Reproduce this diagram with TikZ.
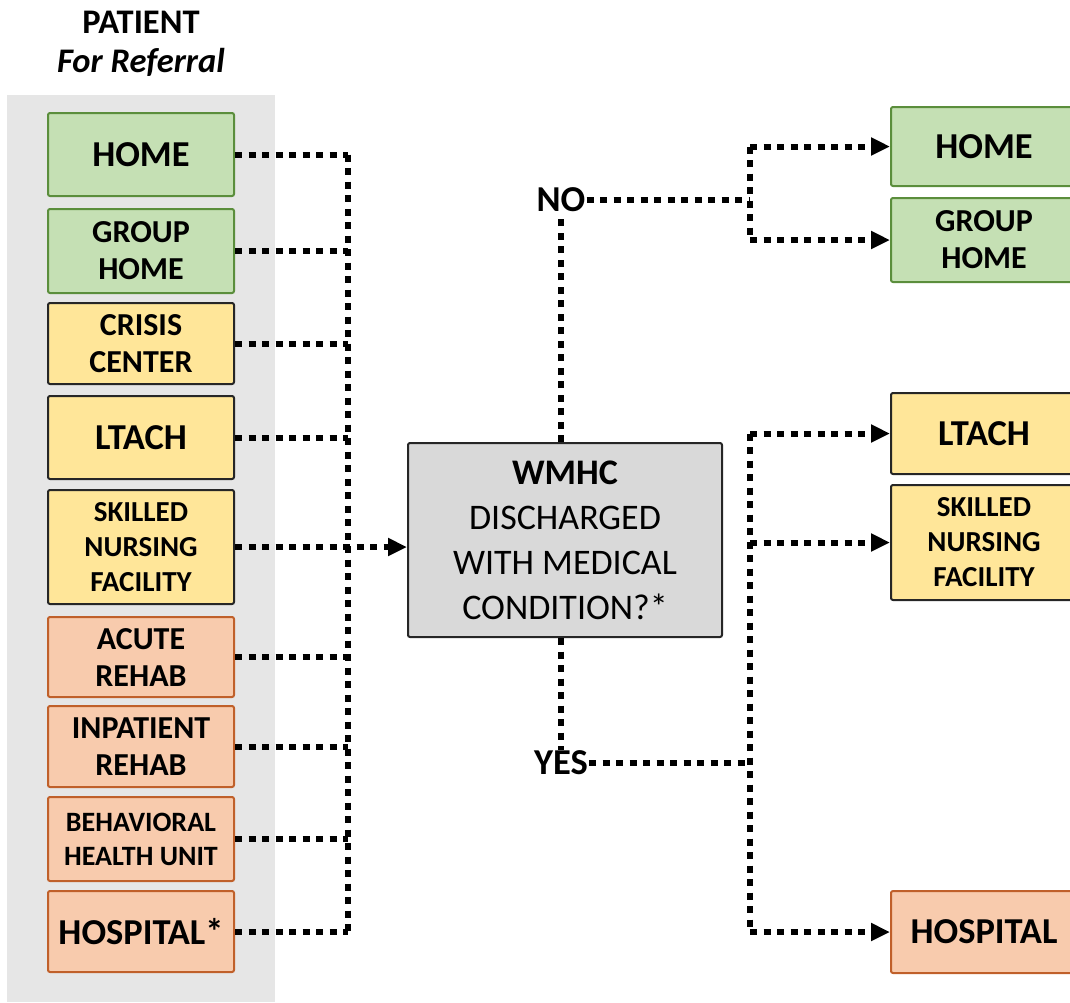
\documentclass[tikz,border=0pt]{standalone}
\usepackage{fontspec}
\setmainfont{Carlito}
\usetikzlibrary{arrows.meta}
\definecolor{panel}{HTML}{E6E6E6}
\definecolor{grnF}{HTML}{C5E0B4}
\definecolor{grnD}{HTML}{5B8E3C}
\definecolor{ylwF}{HTML}{FFE699}
\definecolor{orgF}{HTML}{F8CBAD}
\definecolor{orgD}{HTML}{C0602A}
\definecolor{gryF}{HTML}{D9D9D9}
\begin{document}
\begin{tikzpicture}[x=1pt,y=-1pt,>={Triangle[length=19pt,width=17pt]},
  box/.style={draw,line width=2pt,rounded corners=2pt,align=center,inner sep=2pt,minimum width=186pt},
  grn/.style={box,fill=grnF,draw=grnD},
  ylw/.style={box,fill=ylwF,draw=black!85},
  org/.style={box,fill=orgF,draw=orgD},
  big/.style={font=\fontsize{36.5}{42}\selectfont\bfseries},
  mid/.style={font=\fontsize{32}{37}\selectfont\bfseries},
  sml/.style={font=\fontsize{29}{35}\selectfont\bfseries},
  dots/.style={line width=6pt,dash pattern=on 7pt off 6.5pt}]
\useasboundingbox (0,0) rectangle (1070,1002);
% patient column
\fill[panel] (7,95) rectangle (275,1002);
\node[anchor=base,font=\fontsize{34.5}{40}\selectfont\bfseries] (T1) at (141,33) {PATIENT};
\node[anchor=base,font=\fontsize{34.5}{40}\selectfont\bfseries\itshape] (T2) at (141,72) {For Referral};
\node[grn,big,minimum height=83pt] (LH) at (141,154.5) {HOME};
\node[grn,mid,minimum height=84pt] (LG) at (141,251) {GROUP\\HOME};
\node[ylw,mid,minimum height=81pt] (LC) at (141,343.5) {CRISIS\\CENTER};
\node[ylw,big,minimum height=83pt] (LL) at (141,437.5) {LTACH};
\node[ylw,sml,minimum height=114pt] (LS) at (141,547) {SKILLED\\NURSING\\FACILITY};
\node[org,mid,minimum height=80pt] (LA) at (141,657) {ACUTE\\REHAB};
\node[org,mid,minimum height=81pt] (LI) at (141,746.5) {INPATIENT\\REHAB};
\node[org,font=\fontsize{28}{34}\selectfont\bfseries,minimum height=84pt] (LB) at (141,839) {BEHAVIORAL\\HEALTH UNIT};
\node[org,big,minimum height=81pt] (LP) at (141,931.5) {HOSPITAL*};
% decision
\node[box,fill=gryF,draw=black!85,minimum width=314pt,minimum height=194pt,
  font=\fontsize{36}{45}\selectfont] (W) at (565,540) {\textbf{WMHC}\\DISCHARGED\\WITH MEDICAL\\CONDITION?*};
\node[big,inner sep=1pt] (NO) at (561,200) {NO};
\node[big,inner sep=1pt] (YES) at (561,763) {YES};
% destinations
\node[grn,big,minimum height=79pt] (RH) at (984,146.5) {HOME};
\node[grn,mid,minimum height=84pt] (RG) at (984,240) {GROUP\\HOME};
\node[ylw,big,minimum height=81pt] (RL) at (984,433.5) {LTACH};
\node[ylw,sml,minimum height=115pt] (RS) at (984,542.5) {SKILLED\\NURSING\\FACILITY};
\node[org,big,minimum height=82pt] (RP) at (984,932) {HOSPITAL};
\coordinate (busL) at (348,0);
\coordinate (busR) at (750,0);
% referral lines into the bus
\foreach \n in {LH,LG,LC,LL,LA,LI,LB,LP}
  \draw[dots] (\n.east) -- (\n.east -| busL);
\draw[dots] (LH.east -| busL) -- (LP.east -| busL);
\draw[dots,->] (LS.east) -- (W.west |- LS.east);
% answers
\draw[dots] (W.north -| NO) -- (NO.south);
\draw[dots] (W.south -| YES) -- (YES.north);
\draw[dots] (NO.east) -- (NO.east -| busR);
\draw[dots] (YES.east) -- (YES.east -| busR);
\draw[dots] (busR |- RH.west) -- (busR |- RG.west);
\draw[dots] (busR |- RL.west) -- (busR |- RP.west);
\foreach \n in {RH,RG,RL,RS,RP}
  \draw[dots,->] (busR |- \n.west) -- (\n.west);
\end{tikzpicture}
\end{document}
